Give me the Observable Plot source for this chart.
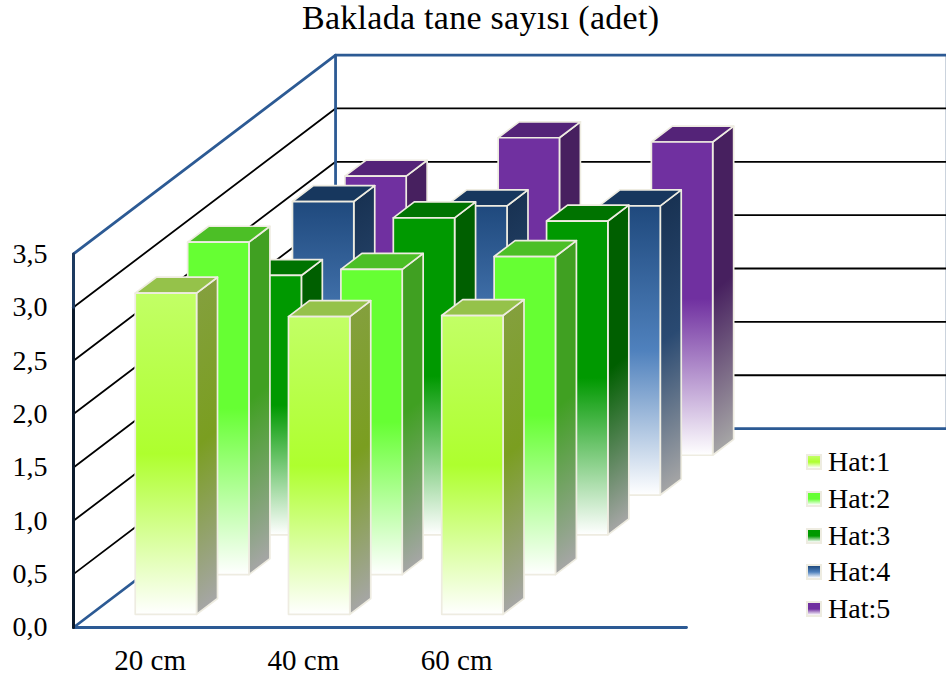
<!DOCTYPE html>
<html lang="tr">
<head>
<meta charset="utf-8">
<title>Baklada tane sayısı (adet)</title>
<script src="https://cdn.jsdelivr.net/npm/d3@7"></script>
<script src="https://cdn.jsdelivr.net/npm/@observablehq/plot@0.6"></script>
<style>
  html, body { margin: 0; padding: 0; background: #fff; overflow: hidden; }
  body { width: 946px; height: 682px; position: relative; font-family: "Liberation Serif", serif; color: #000; }
  #title { height: 40px; line-height: 35px; font-size: 34px; letter-spacing: 0.27px; padding-left: 302px; white-space: nowrap; box-sizing: border-box; }
  #legend { position: absolute; left: 806px; top: 444px; }
  .row { height: 36.7px; display: flex; align-items: center; font-size: 28px; }
  .swatch { width: 12px; height: 12px; border: 2px solid #eeece1; margin-right: 6px; }
</style>
</head>
<body>
<div id="title">Baklada tane sayısı (adet)</div>
<div id="chart"></div>
<div id="legend"></div>
<script>
// Pod counts per plant for each line at the three row spacings
const categories = ["20 cm", "40 cm", "60 cm"];
const seriesNames = ["Hat:1", "Hat:2", "Hat:3", "Hat:4", "Hat:5"];
const hat1 = [3.01, 2.79, 2.8];
const hat2 = [3.115, 2.86, 2.98];
const hat3 = [2.43, 2.97, 2.94];
const hat4 = [2.75, 2.71, 2.71];
const hat5 = [2.615, 2.975, 2.935];
const valueTicks = [0, 0.5, 1, 1.5, 2, 2.5, 3, 3.5];

// Face colours per line: front (top, middle), top face, side (top, middle)
const frontTop = ["#c2ff66", "#66ff33", "#009900", "#1f497d", "#7030a0"];
const frontMid = ["#aeff2e", "#66ff33", "#009900", "#4f81bd", "#7030a0"];
const lidFill = ["#95c24a", "#4cbf26", "#007300", "#17375e", "#542378"];
const sideTop = ["#85a040", "#40a022", "#005f00", "#162f4f", "#47205f"];
const sideMid = ["#7a9e20", "#40a022", "#005f00", "#2a4a72", "#47205f"];

const allValues = [hat1, hat2, hat3, hat4, hat5];

// Oblique projection: one row of depth shifts a point right and up
const DEPTH_X = 0.342;
const DEPTH_Y = 0.3727;
const slots = 4;
const rows = seriesNames.length;
const xMax = 873 / 153.25;
const project = ([slot, depth, value]) => ({
  x: slot + depth * DEPTH_X,
  y: value + depth * DEPTH_Y
});
const path = (...corners) => corners.map(project);

const edge = "#eeece1";
const wall = "#2c5a94";
const topValue = valueTicks[valueTicks.length - 1];

const defs = () => {
  const node = d3.create("svg:defs");
  const gradient = (id, stops, x2) => {
    const g = node.append("linearGradient").attr("id", id)
      .attr("x1", 0).attr("y1", 0).attr("x2", x2).attr("y2", 1);
    stops.forEach(([o, c]) => g.append("stop").attr("offset", o).attr("stop-color", c));
  };
  seriesNames.forEach((_, i) => {
    gradient(`front${i}`, [[0, frontTop[i]], [0.5, frontMid[i]], [1, "#ffffff"]], 0);
    gradient(`side${i}`, [[0, sideTop[i]], [0.5, sideMid[i]], [1, "#a6a6a6"]], 0.05);
  });
  return node.node();
};

const wallLine = (points, stroke, strokeWidth) =>
  Plot.line(points, {x: "x", y: "y", stroke, strokeWidth, strokeLinecap: "round"});

const marks = [defs];

// Pale right edge of the back wall
marks.push(Plot.line([
  {x: xMax - 0.004, y: rows * DEPTH_Y},
  {x: xMax - 0.004, y: rows * DEPTH_Y + topValue}
], {x: "x", y: "y", stroke: "#c3ccd8", strokeWidth: 1.5}));

// Gridlines across the side wall and the back wall
for (const v of valueTicks.slice(1, -1)) {
  marks.push(wallLine(path([0, 0, v], [0, rows, v], [slots, rows, v]), "#000", 1.8));
}

// Wall frame
marks.push(
  wallLine(path([0, 0, topValue], [0, rows, topValue], [slots, rows, topValue]), wall, 2.8),
  wallLine(path([0, 0, 0], [0, rows, 0], [slots, rows, 0]), wall, 2.8),
  wallLine(path([0, rows, 0], [0, rows, topValue]), wall, 2.8),
  wallLine(path([0, 0, 0], [slots, 0, 0]), wall, 2.8),
  wallLine(path([0, 0, 0], [0, 0, 3]), "#0b1a2c", 3),
  wallLine(path([0, 0, 3], [0, 0, topValue]), "#1c3a60", 3)
);

// Bars, back rows first so nearer ones overlap them
const slotLo = 0.29, slotHi = 0.69, rowLo = 0.33, rowHi = 0.73;
for (let s = rows - 1; s >= 0; s--) {
  categories.forEach((_, c) => {
    const v = allValues[s][c];
    const x0 = c + slotLo, x1 = c + slotHi, d0 = s + rowLo, d1 = s + rowHi;
    const face = (corners, fill) => Plot.line(path(...corners), {
      x: "x", y: "y", fill, stroke: edge, strokeWidth: 1.7,
      strokeLinejoin: "round", curve: "linear-closed"
    });
    marks.push(
      face([[x1, d0, 0], [x1, d1, 0], [x1, d1, v], [x1, d0, v]], `url(#side${s})`),
      face([[x0, d0, v], [x1, d0, v], [x1, d1, v], [x0, d1, v]], lidFill[s]),
      face([[x0, d0, 0], [x1, d0, 0], [x1, d0, v], [x0, d0, v]], `url(#front${s})`)
    );
  });
}

// Value axis and category axis
marks.push(
  Plot.axisY({
    ticks: valueTicks, tickSize: 0, tickPadding: 26, label: null, fontSize: 28,
    tickFormat: d => d.toFixed(1).replace(".", ",")
  }),
  Plot.axisX({
    ticks: categories.map((_, i) => i + 0.5), tickSize: 0, tickPadding: 22, label: null, fontSize: 29,
    tickFormat: d => categories[Math.floor(d)]
  })
);

const chart = Plot.plot({
  width: 946, height: 642,
  marginLeft: 73, marginRight: 0, marginTop: 0, marginBottom: 55,
  x: {domain: [0, xMax]},
  y: {domain: [0, 5.5]},
  style: {fontFamily: '"Liberation Serif", serif', color: "#000", background: "#fff"},
  marks
});
document.getElementById("chart").append(chart);

// Legend
const legend = document.getElementById("legend");
seriesNames.forEach((name, i) => {
  const row = document.createElement("div");
  row.className = "row";
  const swatch = document.createElement("span");
  swatch.className = "swatch";
  swatch.style.background = `linear-gradient(${frontTop[i]}, ${frontMid[i]} 50%, #fff)`;
  row.append(swatch, name);
  legend.append(row);
});
</script>
</body>
</html>
